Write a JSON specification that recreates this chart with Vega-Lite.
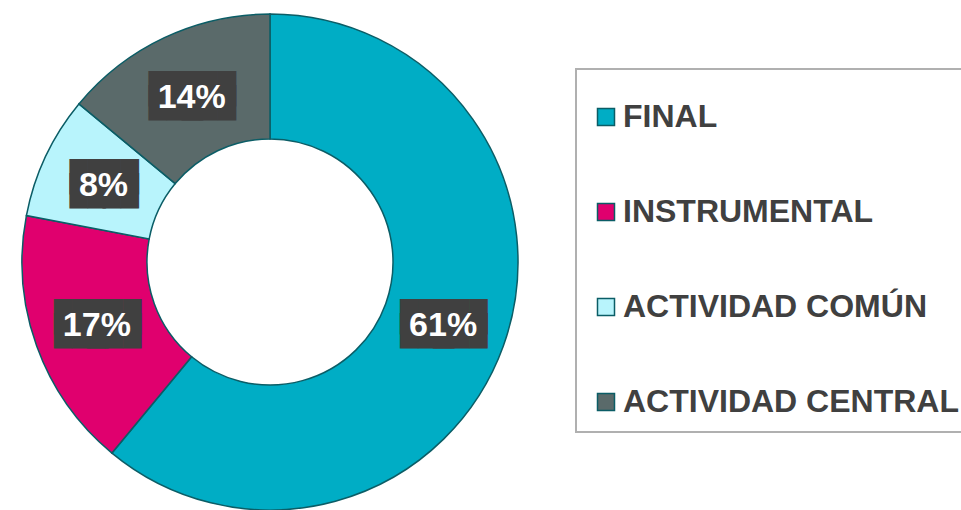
{
  "$schema": "https://vega.github.io/schema/vega-lite/v6.json",
  "width": 540,
  "height": 524,
  "padding": 0,
  "background": "white",
  "autosize": {"type": "pad"},
  "data": {"values": [
    {"category": "FINAL", "value": 61, "label": "61%", "order": 1},
    {"category": "INSTRUMENTAL", "value": 17, "label": "17%", "order": 2},
    {"category": "ACTIVIDAD COMÚN", "value": 8, "label": "8%", "order": 3},
    {"category": "ACTIVIDAD CENTRAL", "value": 14, "label": "14%", "order": 4}
  ]},
  "encoding": {
    "theta": {"field": "value", "type": "quantitative", "stack": true},
    "order": {"field": "order", "type": "quantitative"}
  },
  "layer": [
    {
      "mark": {"type": "arc", "outerRadius": 248, "innerRadius": 123, "stroke": "#0b5d66", "strokeWidth": 1.5},
      "encoding": {
        "color": {
          "field": "category", "type": "nominal",
          "scale": {"domain": ["FINAL", "INSTRUMENTAL", "ACTIVIDAD COMÚN", "ACTIVIDAD CENTRAL"],
                    "range": ["#00adc5", "#e0006e", "#b8f4fc", "#5a6a6a"]},
          "legend": {"title": " "}
        }
      }
    },
    {
      "transform": [{"calculate": "length(datum.label) > 2 ? '███' : '██'", "as": "bg"}],
      "mark": {"type": "text", "radius": 184, "font": "DejaVu Sans Mono", "fontSize": 30, "color": "#404040", "baseline": "middle", "align": "center", "dx": -16, "dy": -6},
      "encoding": {"text": {"field": "bg"}}
    },
    {
      "transform": [{"calculate": "length(datum.label) > 2 ? '███' : '██'", "as": "bg"}],
      "mark": {"type": "text", "radius": 184, "font": "DejaVu Sans Mono", "fontSize": 30, "color": "#404040", "baseline": "middle", "align": "center", "dx": 17, "dy": -6},
      "encoding": {"text": {"field": "bg"}}
    },
    {
      "transform": [{"calculate": "length(datum.label) > 2 ? '███' : '██'", "as": "bg"}],
      "mark": {"type": "text", "radius": 184, "font": "DejaVu Sans Mono", "fontSize": 30, "color": "#404040", "baseline": "middle", "align": "center", "dx": -16, "dy": 8},
      "encoding": {"text": {"field": "bg"}}
    },
    {
      "transform": [{"calculate": "length(datum.label) > 2 ? '███' : '██'", "as": "bg"}],
      "mark": {"type": "text", "radius": 184, "font": "DejaVu Sans Mono", "fontSize": 30, "color": "#404040", "baseline": "middle", "align": "center", "dx": 17, "dy": 8},
      "encoding": {"text": {"field": "bg"}}
    },
    {
      "mark": {"type": "text", "radius": 184, "font": "Liberation Sans", "fontSize": 34, "fontWeight": "bold", "color": "white", "baseline": "middle", "align": "center", "dy": 2},
      "encoding": {"text": {"field": "label"}}
    }
  ],
  "config": {
    "view": {"stroke": null},
    "legend": {
      "orient": "none", "legendX": 576, "legendY": 69, "padding": 14,
      "fillColor": "white", "strokeColor": "#b0b0b0", "strokeWidth": 2,
      "symbolType": "square", "symbolSize": 289, "symbolStrokeColor": "#0b5d66", "symbolStrokeWidth": 1.5, "symbolOpacity": 1,
      "labelFont": "Liberation Sans", "labelFontSize": 32, "labelFontWeight": "bold", "labelColor": "#404040",
      "labelOffset": 1, "rowPadding": 63, "labelLimit": 0,
      "titleFontSize": 10, "titlePadding": 8
    }
  }
}
